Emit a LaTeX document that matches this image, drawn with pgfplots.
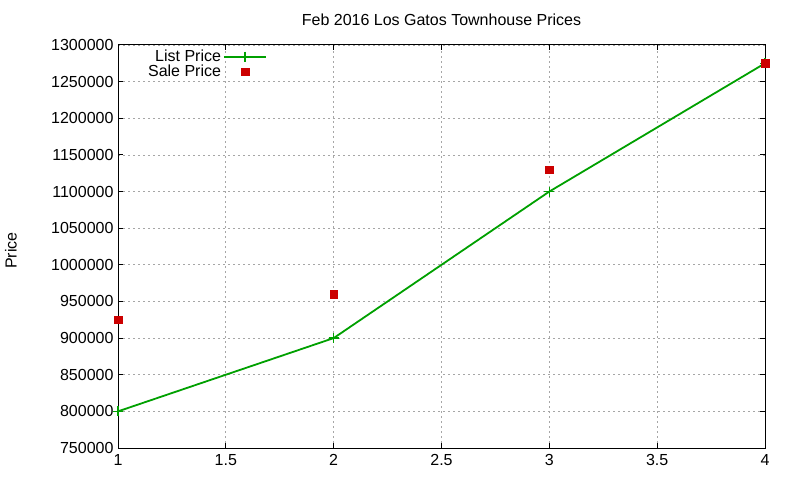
\documentclass[border=0pt]{standalone}
\usepackage{fontspec}
\setmainfont{Liberation Sans}
\usepackage{pgfplots}
\pgfplotsset{compat=1.18}
\definecolor{gpgreen}{RGB}{0,160,0}
\definecolor{gpred}{RGB}{204,0,0}
\pgfplotsset{
    linelegend/.style={legend image code/.code={\draw[##1] (3pt,0pt) -- (45pt,0pt); \path[##1, only marks] plot coordinates {(24pt,0pt)};}},
    marklegend/.style={legend image code/.code={\path[##1] plot coordinates {(24pt,0pt)};}},
}
\begin{document}
\begin{tikzpicture}[x=1pt,y=1pt]
\useasboundingbox (0,0) rectangle (800,480);
\begin{axis}[
    at={(118pt,32pt)}, anchor=south west,
    scale only axis,
    width=647pt, height=403pt,
    xmin=1, xmax=4, ymin=750000, ymax=1300000,
    xtick={1,1.5,2,2.5,3,3.5,4},
    ytick={750000,800000,...,1300000},
    scaled y ticks=false,
    /pgf/number format/assume math mode=true,
    yticklabel style={/pgf/number format/fixed, /pgf/number format/1000 sep={}, xshift=-1pt},
    xticklabel style={/pgf/number format/fixed, yshift=-3pt},
    tick label style={font=\fontsize{16}{19}\selectfont},
    grid=major,
    major grid style={gray!70, dash pattern=on 2pt off 3pt, line width=0.8pt},
    axis line style={line width=1pt},
    major tick length=5pt,
    tick style={black, line width=1pt},
    title={Feb 2016 Los Gatos Townhouse Prices},
    title style={font=\fontsize{16}{19}\selectfont, at={(0.5,1)}, yshift=10pt, anchor=south},
    ylabel={Price},
    every axis y label/.style={at={(-107pt,0.49)}, rotate=90, anchor=center, font=\fontsize{16}{19}\selectfont},
    legend style={at={(152pt,402pt)}, anchor=north east, draw=none, fill=none,
        font=\fontsize{16}{19}\selectfont, row sep=-2pt},
    legend cell align=right,
    legend plot pos=right,
]
\addplot[color=gpgreen, line width=1.8pt, mark=+, mark size=5pt, mark options={line width=1.3pt}, linelegend]
    coordinates {(1,800000) (2,900000) (3,1100000) (4,1275000)};
\addlegendentry{List Price}
\addplot[only marks, color=gpred, mark=square*, mark size=3.8pt, marklegend]
    coordinates {(1,925000) (2,960000) (3,1130000) (4,1275000)};
\addlegendentry{Sale Price}
\end{axis}
\end{tikzpicture}
\end{document}
